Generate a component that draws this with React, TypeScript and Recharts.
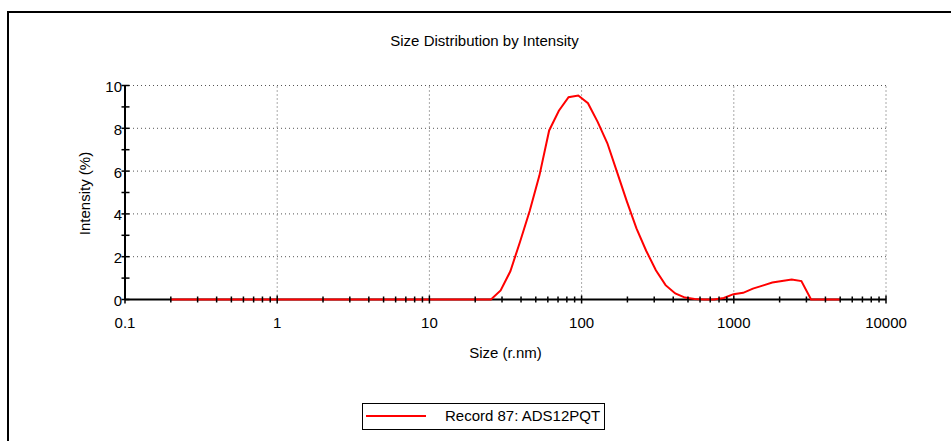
import { LineChart, Line, XAxis, YAxis, ReferenceLine } from "recharts";

// radius bins (r.nm) and intensity (%)
const sizes = [
  0.2, 0.2316, 0.2683, 0.3107, 0.3598, 0.4166, 0.4825, 0.5587, 0.647, 0.7494,
  0.868, 1.005, 1.164, 1.348, 1.561, 1.808, 2.094, 2.424, 2.807, 3.251,
  3.765, 4.36, 5.049, 5.847, 6.771, 7.841, 9.081, 10.52, 12.18, 14.1,
  16.33, 18.92, 21.91, 25.37, 29.38, 34.03, 39.41, 45.64, 52.85, 61.21,
  70.89, 82.09, 95.07, 110.1, 127.5, 147.7, 171, 198, 229.3, 265.6,
  307.6, 356.2, 412.5, 477.7, 553.3, 640.7, 742, 859.3, 995.2, 1152,
  1335, 1546, 1790, 2073, 2401, 2780, 3220, 3728, 4318, 5000,
];

const intensity = [
  0, 0, 0, 0, 0, 0, 0, 0, 0, 0,
  0, 0, 0, 0, 0, 0, 0, 0, 0, 0,
  0, 0, 0, 0, 0, 0, 0, 0, 0, 0,
  0, 0, 0, 0, 0.42, 1.32, 2.7, 4.15, 5.8, 7.9,
  8.82, 9.45, 9.53, 9.17, 8.3, 7.3, 5.95, 4.6, 3.32, 2.28,
  1.37, 0.67, 0.28, 0.09, 0.02, 0, 0, 0.07, 0.25, 0.31,
  0.51, 0.65, 0.79, 0.86, 0.93, 0.86, 0, 0, 0, 0,
];

const xTicks = [
  0.1, 0.2, 0.3, 0.4, 0.5, 0.6, 0.7, 0.8, 0.9,
  1, 2, 3, 4, 5, 6, 7, 8, 9,
  10, 20, 30, 40, 50, 60, 70, 80, 90,
  100, 200, 300, 400, 500, 600, 700, 800, 900,
  1000, 2000, 3000, 4000, 5000, 6000, 7000, 8000, 9000,
  10000,
];
const xMajor = [0.1, 1, 10, 100, 1000, 10000];
const yTicks = [0, 1, 2, 3, 4, 5, 6, 7, 8, 9, 10];
const yGrid = [2, 4, 6, 8, 10];

const FONT = "'Liberation Sans', Arial, sans-serif";
const W = 951;
const H = 441;
const MARGIN = { top: 85.5, right: 65, bottom: 111.5, left: 65 };

const data = sizes.map((s, i) => ({ size: s, intensity: intensity[i] }));

function XTick(props: any) {
  const { x, y, payload } = props;
  const major = xMajor.includes(payload.value);
  const h = major ? 4 : 3;
  return (
    <g>
      <line x1={x} x2={x} y1={y - h} y2={y + h} stroke="#000" strokeWidth={1.5} />
      {major && (
        <text x={x} y={y + 28.5} textAnchor="middle" fontSize={15} fontFamily={FONT} fill="#000">
          {String(payload.value)}
        </text>
      )}
    </g>
  );
}

function YTick(props: any) {
  const { x, y, payload } = props;
  const major = payload.value % 2 === 0;
  return (
    <g>
      <line x1={x - 3.5} x2={x + 4.5} y1={y} y2={y} stroke="#000" strokeWidth={1.5} />
      {major && (
        <text x={x - 3} y={y + 6.5} textAnchor="end" fontSize={15} fontFamily={FONT} fill="#000">
          {payload.value}
        </text>
      )}
    </g>
  );
}

export default function App() {
  const chartStyle = { position: "absolute" as const, left: 0, top: 0 };
  return (
    <div style={{ position: "absolute", left: 0, top: 0, width: W, height: H, overflow: "hidden", background: "#fff", fontFamily: FONT }}>
      {/* outer frame, only top and left edges are visible */}
      <div style={{ position: "absolute", left: 7, top: 11, width: 1000, height: 600, borderTop: "2px solid #000", borderLeft: "2px solid #000" }} />

      <div style={{ position: "absolute", left: 0, width: 969, top: 33, textAlign: "center", fontSize: 15, lineHeight: "15px", color: "#000" }}>
        Size Distribution by Intensity
      </div>

      {/* back layer: axis lines + dotted grid */}
      <LineChart width={W} height={H} data={data} margin={MARGIN} style={chartStyle}>
        <XAxis type="number" dataKey="size" scale="log" domain={[0.1, 10000]} allowDataOverflow ticks={xTicks}
          tick={false} tickLine={false} height={30} axisLine={{ stroke: "#000", strokeWidth: 2 }} />
        <YAxis type="number" domain={[0, 10]} ticks={yTicks} tick={false} tickLine={false} width={60}
          axisLine={{ stroke: "#000", strokeWidth: 2 }} />
        {xMajor.slice(1).map((v) => (
          <ReferenceLine key={"x" + v} x={v} stroke="#555" strokeWidth={1} strokeDasharray="1 3" />
        ))}
        {yGrid.map((v) => (
          <ReferenceLine key={"y" + v} y={v} stroke="#555" strokeWidth={1} strokeDasharray="1 3" />
        ))}
        <Line type="linear" dataKey="intensity" stroke="transparent" dot={false} isAnimationActive={false} />
      </LineChart>

      {/* front layer: the trace, with tick marks drawn over it */}
      <LineChart width={W} height={H} data={data} margin={MARGIN} style={chartStyle}>
        <XAxis type="number" dataKey="size" scale="log" domain={[0.1, 10000]} allowDataOverflow ticks={xTicks}
          interval={0} tick={<XTick />} tickLine={false} tickSize={0} tickMargin={0} height={30} axisLine={false} />
        <YAxis type="number" domain={[0, 10]} ticks={yTicks} interval={0} tick={<YTick />} tickLine={false}
          tickSize={0} tickMargin={0} width={60} axisLine={false} />
        <Line type="linear" dataKey="intensity" stroke="#ff0000" strokeWidth={2} dot={false} isAnimationActive={false} />
      </LineChart>

      <div style={{ position: "absolute", left: 24, width: 120, top: 185.5, textAlign: "center", fontSize: 15, lineHeight: "15px", transform: "rotate(-90deg)", color: "#000", whiteSpace: "nowrap" }}>
        Intensity (%)
      </div>
      <div style={{ position: "absolute", left: 445.5, width: 120, top: 345, textAlign: "center", fontSize: 15, lineHeight: "15px", color: "#000" }}>
        Size (r.nm)
      </div>

      <div style={{ position: "absolute", left: 362, top: 403, width: 243, height: 27, border: "1.5px solid #000", boxSizing: "border-box" }}>
        <div style={{ position: "absolute", left: 3, top: 11, width: 60, height: 2, background: "#ff0000" }} />
        <div style={{ position: "absolute", left: 82, top: 4, fontSize: 15, lineHeight: "15px", color: "#000", whiteSpace: "nowrap" }}>
          Record 87: ADS12PQT
        </div>
      </div>
    </div>
  );
}
